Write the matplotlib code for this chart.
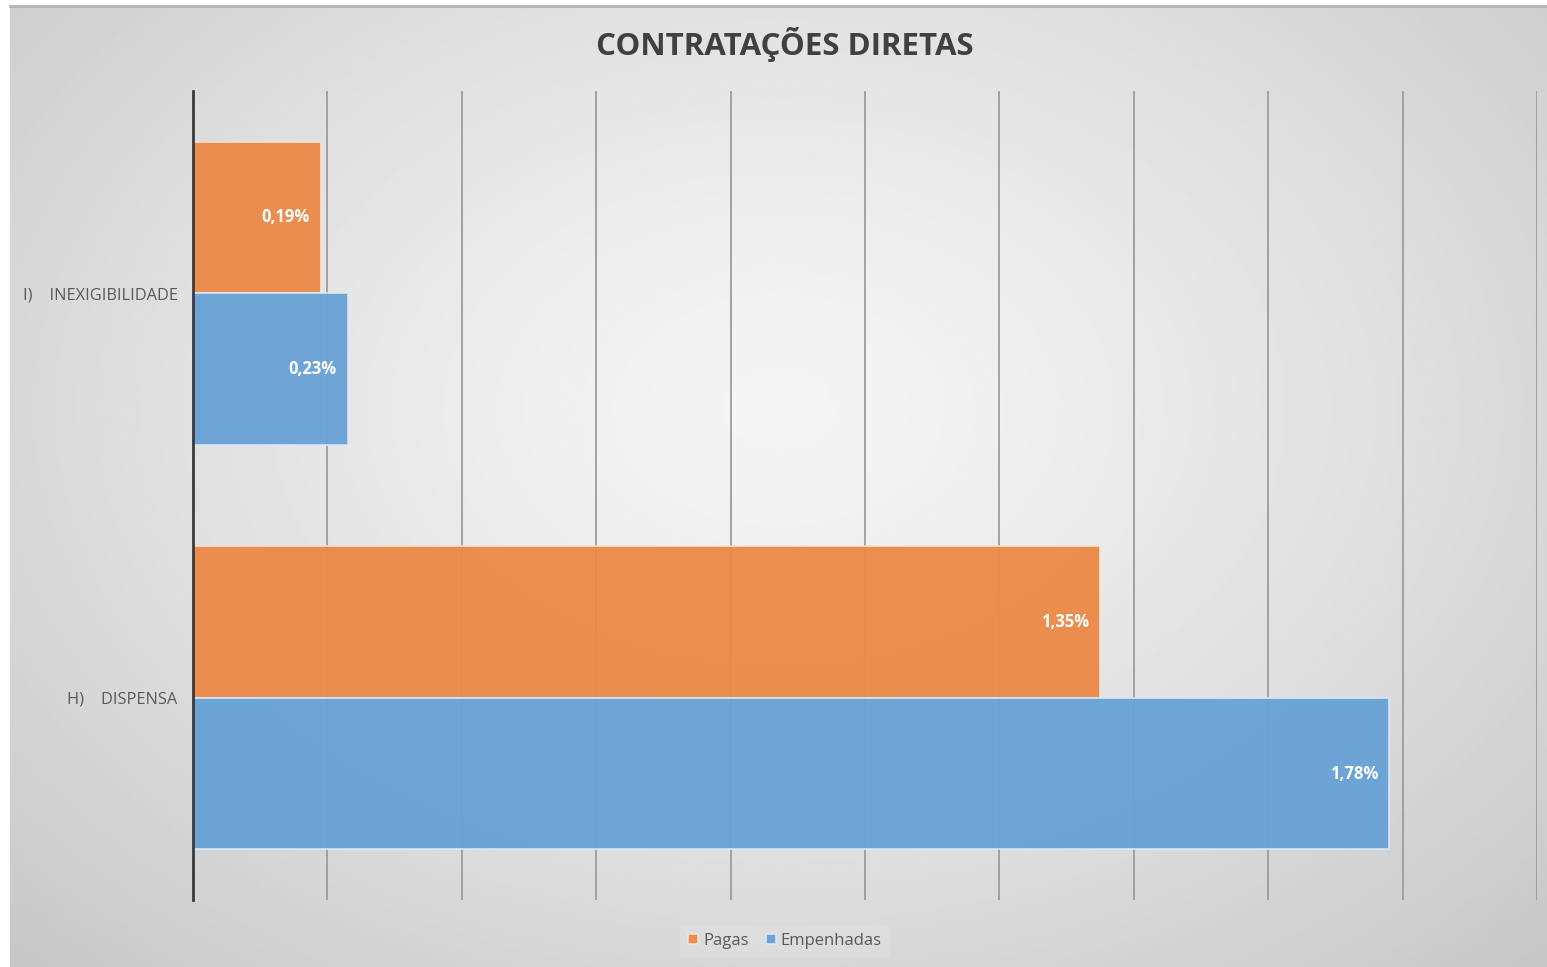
import numpy as np
import matplotlib.pyplot as plt

categorias = ['H)    DISPENSA', 'I)    INEXIGIBILIDADE']
pagas = [1.35, 0.19]
empenhadas = [1.78, 0.23]
rotulos_pagas = ['1,35%', '0,19%']
rotulos_empenhadas = ['1,78%', '0,23%']

plt.rcParams['font.family'] = ['Open Sans', 'DejaVu Sans']

fig = plt.figure(figsize=(15.47, 9.67), dpi=100)
fig.patch.set_facecolor('white')

# fundo com gradiente radial
bg = fig.add_axes([10/1547, 0, 1 - 10/1547, 1 - 6/967], zorder=0)
yy, xx = np.mgrid[0:1:400j, 0:1:600j]
r = np.sqrt(((xx - 0.5) / 0.75) ** 2 + ((yy - 0.42) / 0.85) ** 2)
r = np.clip(r, 0, 1)
img = 245 - (245 - 196) * r ** 1.3
bg.imshow(img, cmap='gray', vmin=0, vmax=255, aspect='auto', extent=[0, 1, 1, 0])
bg.axis('off')
fig.add_artist(plt.Line2D([10/1547, 1], [1 - 6/967, 1 - 6/967], color='#b4b4b4', lw=2))

ax = fig.add_axes([193/1547, 1 - 900/967, (1537 - 193)/1547, (900 - 91)/967], zorder=1)
ax.patch.set_alpha(0)

y = np.arange(len(categorias))
h = 0.375
b1 = ax.barh(y + h/2, pagas, height=h, color='#eb8a48', edgecolor='#fbe3d2', lw=1.2,
             alpha=0.96, label='Pagas', zorder=3)
b2 = ax.barh(y - h/2, empenhadas, height=h, color='#69a2d6', edgecolor='#d9e8f6', lw=1.2,
             alpha=0.96, label='Empenhadas', zorder=3)

for barras, rot in [(b1, rotulos_pagas), (b2, rotulos_empenhadas)]:
    for bar, t in zip(barras, rot):
        ax.text(bar.get_width() - 0.016, bar.get_y() + bar.get_height()/2, t,
                ha='right', va='center', color='white', fontsize=12, fontweight='bold', zorder=4)

ax.set_xlim(0, 2.0)
ax.set_ylim(-0.5, 1.5)
ax.set_xticks(np.arange(0, 2.01, 0.2))
ax.set_xticklabels([])
ax.tick_params(axis='x', length=0)
ax.tick_params(axis='y', length=0, pad=11, labelsize=11.8, labelcolor='#595959')
ax.set_yticks(y)
ax.set_yticklabels(categorias)
ax.grid(axis='x', color='#9c9c9c', lw=1.3, zorder=1)
for s in ['top', 'right', 'bottom']:
    ax.spines[s].set_visible(False)
ax.spines['left'].set_color('#3a3a3a')
ax.spines['left'].set_linewidth(2)
ax.spines['left'].set_zorder(5)

fig.text(785/1547, 1 - 45/967, 'CONTRATAÇÕES DIRETAS', ha='center', va='center',
         fontsize=22.5, fontweight='bold', color='#404040')

leg = fig.legend(handles=[b1, b2], loc='center', bbox_to_anchor=(785/1547, 1 - 941/967),
                 ncol=2, frameon=True, fontsize=12, handlelength=0.6, handleheight=0.6,
                 handletextpad=0.3, columnspacing=1.0, borderpad=0.5)
leg.get_frame().set_facecolor('#e0e0e0')
leg.get_frame().set_edgecolor('none')
leg.get_frame().set_alpha(0.6)
for t in leg.get_texts():
    t.set_color('#595959')

fig.savefig('out.png', dpi=100)
